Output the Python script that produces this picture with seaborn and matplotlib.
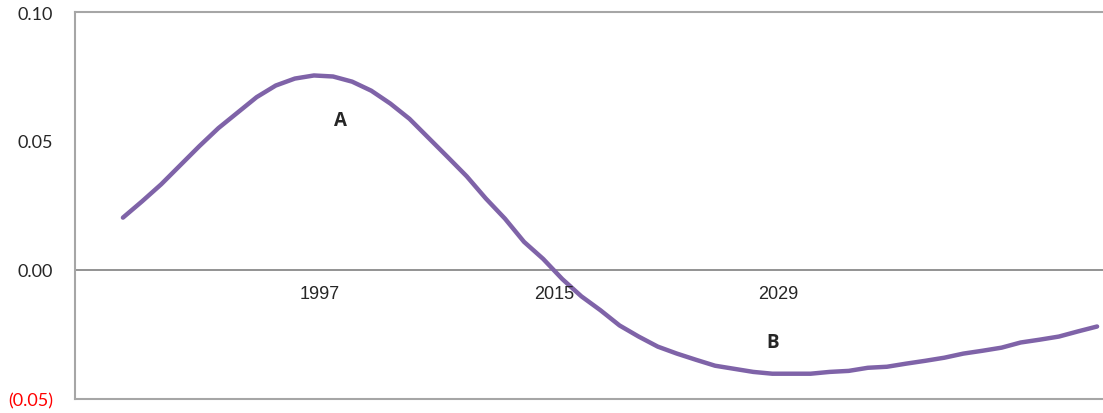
import numpy as np
import pandas as pd
import matplotlib
matplotlib.use("Agg")
import matplotlib.pyplot as plt
import seaborn as sns

# Series values (one point per category)
values = [
    0.0203, 0.0266, 0.0332, 0.0406, 0.0480, 0.0550, 0.0610, 0.0670, 0.0715, 0.0742,
    0.0754, 0.0750, 0.0730, 0.0695, 0.0645, 0.0586, 0.0512, 0.0438, 0.0363, 0.0277,
    0.0199, 0.0109, 0.0043, -0.0035, -0.0102, -0.0156, -0.0215, -0.0258, -0.0297, -0.0324,
    -0.0348, -0.0371, -0.0383, -0.0395, -0.0402, -0.0402, -0.0402, -0.0395, -0.0391, -0.0379,
    -0.0375, -0.0363, -0.0352, -0.0340, -0.0324, -0.0313, -0.0301, -0.0281, -0.0270, -0.0258,
    -0.0238, -0.0219,
]
year_labels = ["1997", "2015", "2029"]
year_pos = [10.3, 22.6, 34.3]
point_labels = ["A", "B"]
point_pos = [(11.4, 0.0582), (34.0, -0.0281)]
y_ticks = [-0.05, 0.0, 0.05, 0.10]
y_tick_labels = ["(0.05)", "0.00", "0.05", "0.10"]

df = pd.DataFrame({"idx": np.arange(len(values)), "value": values})

sns.set_style("white")
plt.rcParams["font.family"] = ["Lato", "DejaVu Sans"]

fig = plt.figure(figsize=(11.03, 4.14), dpi=100)
ax = fig.add_axes([75 / 1103, 14 / 414, 1 - 75 / 1103, 1 - 27 / 414])

sns.lineplot(data=df, x="idx", y="value", ax=ax, color="#7f63a8", linewidth=3.2,
             solid_capstyle="round")

ax.axhline(0, color="#8a8a8a", linewidth=1.3, zorder=1)

ax.set_xlim(-2.51, 51.31)
ax.set_ylim(-0.05, 0.10)
ax.set_xticks([])
ax.set_yticks(y_ticks)
ax.set_yticklabels(y_tick_labels, fontsize=13)
ax.tick_params(axis="y", length=0, pad=16)
ax.get_yticklabels()[0].set_color("#ff0000")
ax.set_xlabel("")
ax.set_ylabel("")

for side in ["left", "top", "bottom"]:
    ax.spines[side].set_color("#a6a6a6")
    ax.spines[side].set_linewidth(1.5)
ax.spines["right"].set_visible(False)

for lab, xp in zip(year_labels, year_pos):
    ax.text(xp, -0.009, lab, ha="center", va="center", fontsize=13,
            family="Liberation Sans")

for lab, (xp, yp) in zip(point_labels, point_pos):
    ax.text(xp, yp, lab, ha="center", va="center", fontsize=13.5, fontweight="bold",
            family="Open Sans")

fig.savefig("out.png", dpi=100)
